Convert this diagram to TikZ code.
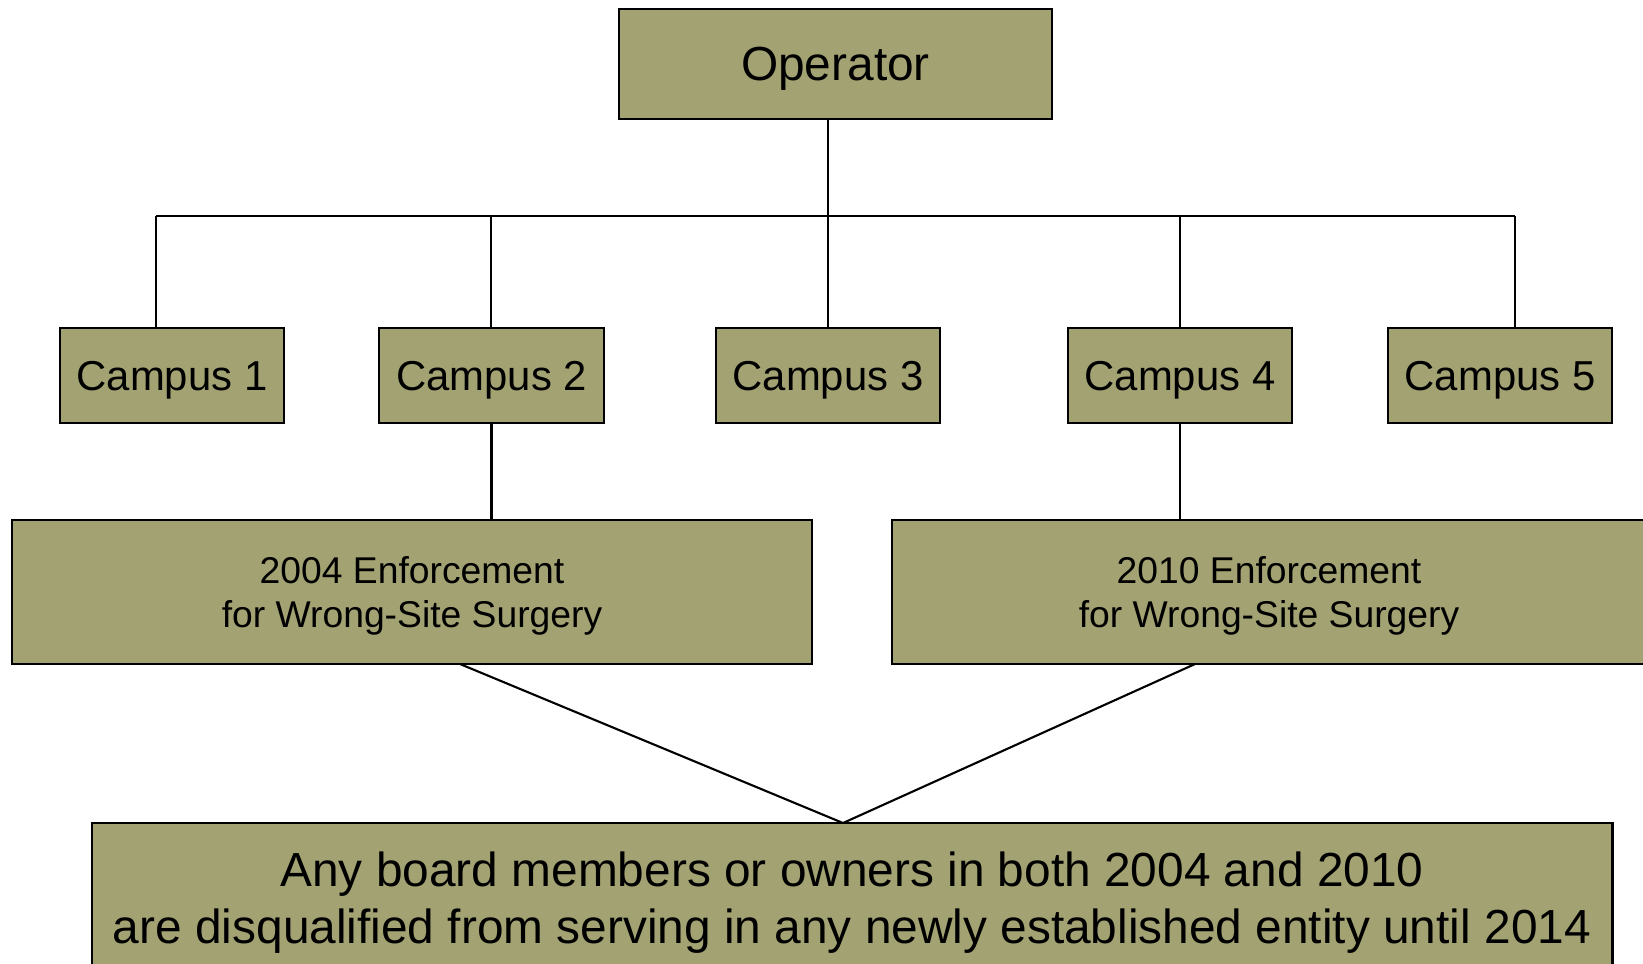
\documentclass[tikz,border=0pt]{standalone}
\usepackage{fontspec}
\setmainfont{Liberation Sans}
\definecolor{orgolive}{HTML}{A3A272}
\usetikzlibrary{positioning}

\begin{document}
\begin{tikzpicture}[x=0.01cm, y=-0.01cm,
  unit/.style={draw=black, fill=orgolive, line width=0.6pt, inner sep=0pt,
               align=center, text depth=0pt},
  top/.style={unit, minimum width=4.33cm, minimum height=1.10cm,
              font=\fontsize{13.6}{16.2}\selectfont},
  campus/.style={unit, minimum width=2.24cm, minimum height=0.95cm,
                 font=\fontsize{11.9}{14.2}\selectfont},
  case/.style={unit, minimum height=1.44cm,
               font=\fontsize{10.6}{12.5}\selectfont},
  rule/.style={unit, minimum width=15.2cm, minimum height=1.49cm,
               font=\fontsize{13.6}{16.1}\selectfont},
  link/.style={draw=black, line width=0.6pt}
]
  \clip (0,0) rectangle (1643,963);
  \fill[white] (0,0) rectangle (1643,963);

  \node[top] (op) at (835.5,64) {Operator};

  \node[campus] (c1) at (172,375.5) {Campus 1};
  \node[campus] (c2) at (491.5,375.5) {Campus 2};
  \node[campus] (c3) at (828,375.5) {Campus 3};
  \node[campus] (c4) at (1180,375.5) {Campus 4};
  \node[campus] (c5) at (1500,375.5) {Campus 5};

  \node[case, minimum width=8.0cm] (e04) at (412,592)
    {2004 Enforcement\\for Wrong-Site Surgery};
  \node[case, minimum width=7.54cm] (e10) at (1269,592)
    {2010 Enforcement\\for Wrong-Site Surgery};

  \node[rule] (ban) at (852,897.5)
    {Any board members or owners in both 2004 and 2010\\
     are disqualified from serving in any newly established entity until 2014};

  % bus under the operator
  \coordinate (b1) at (156,216);
  \coordinate (b2) at (491,216);
  \coordinate (hub) at (828,216);
  \coordinate (b4) at (1180,216);
  \coordinate (b5) at (1515,216);

  \draw[link] (op.south -| hub) -- (hub);
  \draw[link] (b1) -- (b5);
  \draw[link] (b1) -- (c1.north -| b1);
  \draw[link] (b2) -- (c2.north -| b2);
  \draw[link] (hub) -- (c3.north);
  \draw[link] (b4) -- (c4.north);
  \draw[link] (b5) -- (c5.north -| b5);

  \draw[link] (c2.south) -- (c2.south |- e04.north);
  \draw[link] (c4.south) -- (c4.south |- e10.north);

  % both enforcements meet at the rule
  \coordinate (d04) at (460,664);
  \coordinate (d10) at (1195,664);
  \coordinate (meet) at (843,823);
  \draw[link] (d04) -- (meet) -- (d10);

\end{tikzpicture}
\end{document}
